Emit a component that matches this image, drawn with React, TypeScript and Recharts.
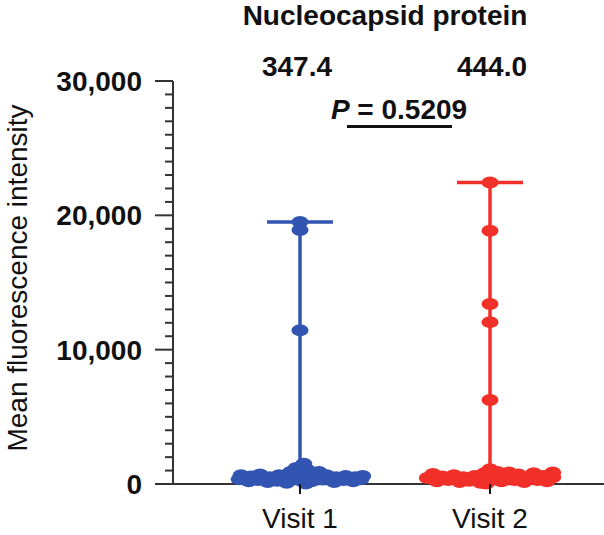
import React from "react";
import { ScatterChart, Scatter, XAxis, YAxis, ErrorBar } from "recharts";

const GROUPS = ["Visit 1", "Visit 2"];
const COLORS = ["#3355b2", "#f2302a"];
const MEDIANS = [347.4, 444.0];
const Y_TICKS = Array.from({ length: 31 }, (_, i) => i * 1000);

// values, with horizontal jitter offsets (x units) for the swarm
const VISIT1_VALUES = [
  19500, 18900, 11450, 350, 650, 200, 550, 300, 700, 150, 500, 250, 650, 100, 450,
  900, 1200, 300, 700, 1500, 1050, 200, 600, 900, 350, 650, 150, 500, 300, 600, 200,
  500, 350, 600, 40,
];
const VISIT1_OFFSETS = [
  0, 0, 0, -0.32, -0.31, -0.27, -0.26, -0.22, -0.21, -0.17, -0.16, -0.12, -0.11, -0.07,
  -0.06, -0.05, -0.02, 0, 0.01, 0.02, 0.04, 0.06, 0.07, 0.1, 0.12, 0.14, 0.18, 0.19,
  0.23, 0.24, 0.28, 0.29, 0.32, 0.33, 0.03,
];
const VISIT2_VALUES = [
  22450, 18850, 13400, 12050, 6250, 450, 750, 200, 550, 300, 650, 150, 500, 250, 600,
  100, 800, 350, 1100, 650, 900, 200, 550, 850, 300, 700, 150, 500, 800, 300, 600, 200,
  500, 850, 30,
];
const VISIT2_OFFSETS = [
  0, 0, 0, 0, 0, -0.33, -0.3, -0.28, -0.25, -0.22, -0.19, -0.16, -0.14, -0.11, -0.08,
  -0.05, -0.03, -0.01, 0, 0.02, 0.04, 0.06, 0.08, 0.1, 0.13, 0.15, 0.18, 0.2, 0.23,
  0.25, 0.28, 0.3, 0.33, 0.33, -0.02,
];

const VALUES = [VISIT1_VALUES, VISIT2_VALUES];
const OFFSETS = [VISIT1_OFFSETS, VISIT2_OFFSETS];

const X_DOMAIN: [number, number] = [0.3316, 2.6];
const FONT = "'Liberation Sans', Arial, Helvetica, sans-serif";

const points = VALUES.map((vals, g) =>
  vals.map((v, i) => ({ x: g + 1 + OFFSETS[g][i], y: v }))
);
const ranges = VALUES.map((vals, g) => {
  const lo = Math.min(...vals);
  const hi = Math.max(...vals);
  return [{ x: g + 1, y: MEDIANS[g], err: [MEDIANS[g] - lo, hi - MEDIANS[g]] }];
});

const fmt = (v: number) => v.toLocaleString("en-US");

function YTick({ x, y, payload }: any) {
  const v = payload.value;
  const major = v % 10000 === 0;
  return (
    <g>
      <line x1={x - (major ? 18 : 8)} x2={x} y1={y} y2={y} stroke="#333" strokeWidth={2} />
      {major && (
        <text x={x - 31} y={y + 10} textAnchor="end" fontFamily={FONT} fontWeight="bold" fontSize={28} fill="#111">
          {fmt(v)}
        </text>
      )}
    </g>
  );
}

function XTick({ x, y, payload }: any) {
  return (
    <g>
      <line x1={x} x2={x} y1={y} y2={y + 10} stroke="#111" strokeWidth={2} />
      <text x={x} y={y + 44} textAnchor="middle" fontFamily={FONT} fontSize={28} fill="#111">
        {GROUPS[payload.value - 1]}
      </text>
    </g>
  );
}

const dot = (color: string) => (p: any) => (
  <ellipse cx={p.cx} cy={p.cy} rx={8.5} ry={6} fill={color} />
);

const medianMark = (color: string) => (p: any) => (
  <line x1={p.cx - 33} x2={p.cx + 33} y1={p.cy} y2={p.cy} stroke={color} strokeWidth={3} />
);

const textStyle: React.CSSProperties = {
  position: "absolute",
  fontFamily: FONT,
  fontWeight: "bold",
  color: "#111",
  whiteSpace: "nowrap",
  lineHeight: 1,
};

export default function App() {
  return (
    <div style={{ position: "absolute", left: 0, top: 0, width: 604, height: 535, background: "#fff" }}>
      <ScatterChart width={604} height={535} margin={{ top: 81, right: 0, bottom: 0, left: 0 }}>
        <XAxis
          type="number"
          dataKey="x"
          domain={X_DOMAIN}
          allowDataOverflow
          ticks={[1, 2]}
          height={51}
          tickSize={0}
          tickMargin={0}
          tickLine={false}
          axisLine={{ stroke: "#333", strokeWidth: 2 }}
          tick={<XTick />}
        />
        <YAxis
          type="number"
          dataKey="y"
          domain={[0, 30000]}
          ticks={Y_TICKS}
          interval={0}
          width={173}
          tickSize={0}
          tickMargin={0}
          tickLine={false}
          axisLine={{ stroke: "#333", strokeWidth: 2 }}
          tick={<YTick />}
          label={{
            content: () => (
              <text
                x={0}
                y={0}
                transform="translate(27, 278) rotate(-90)"
                textAnchor="middle"
                fontFamily={FONT}
                fontSize={28}
                fill="#111"
              >
                Mean fluorescence intensity
              </text>
            ),
          }}
        />
        {ranges.map((r, g) => (
          <Scatter key={"r" + g} data={r} shape={medianMark(COLORS[g])} isAnimationActive={false}>
            <ErrorBar dataKey="err" direction="y" width={33} stroke={COLORS[g]} strokeWidth={3.5} />
          </Scatter>
        ))}
        {points.map((pts, g) => (
          <Scatter key={"p" + g} data={pts} shape={dot(COLORS[g])} isAnimationActive={false} />
        ))}
      </ScatterChart>
      <div style={{ ...textStyle, left: 385, top: 2, fontSize: 28, transform: "translateX(-50%)" }}>
        Nucleocapsid protein
      </div>
      {MEDIANS.map((m, g) => (
        <div
          key={g}
          style={{ ...textStyle, left: g === 0 ? 297 : 492, top: 53, fontSize: 28, transform: "translateX(-50%)" }}
        >
          {m.toFixed(1)}
        </div>
      ))}
      <div style={{ ...textStyle, left: 399, top: 96, fontSize: 28, transform: "translateX(-50%)" }}>
        <i>P</i> = 0.5209
      </div>
      <div style={{ position: "absolute", left: 347, top: 125, width: 105, height: 3, background: "#111" }} />
    </div>
  );
}
